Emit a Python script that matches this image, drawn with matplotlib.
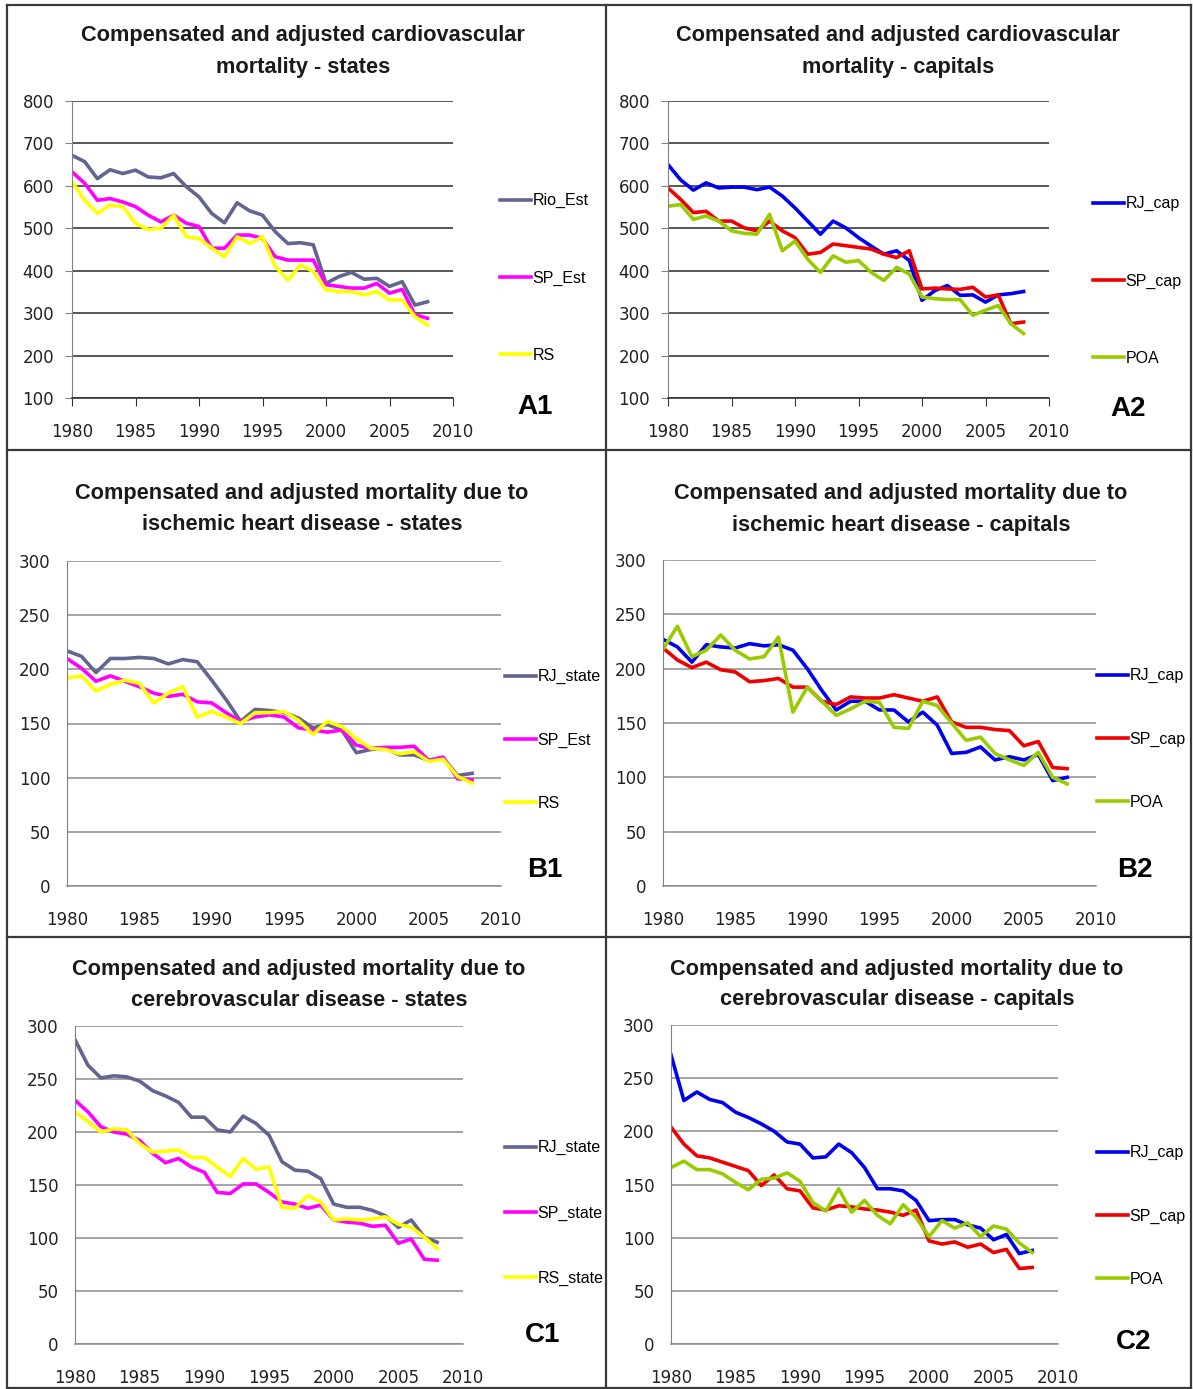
import numpy as np
import matplotlib
matplotlib.use("Agg")
import matplotlib.pyplot as plt
from matplotlib.lines import Line2D

W, H = 1193, 1389
years = np.arange(1980, 2009)

# A1 - cardiovascular, states
a1_rio = [672, 657, 617, 638, 629, 637, 621, 619, 629, 598, 574, 535, 513, 560, 541, 531,
          492, 464, 466, 461, 370, 386, 396, 380, 382, 363, 374, 319, 327]
a1_sp = [633, 606, 566, 570, 562, 551, 531, 515, 531, 512, 504, 453, 453, 484, 484, 476,
         433, 425, 425, 425, 367, 363, 359, 359, 370, 347, 356, 296, 288]
a1_rs = [610, 566, 535, 555, 551, 512, 497, 500, 531, 480, 476, 453, 433, 480, 464, 480,
         410, 378, 414, 398, 355, 351, 351, 343, 351, 331, 331, 292, 272]

# A2 - cardiovascular, capitals
a2_rj = [650, 614, 590, 607, 595, 597, 597, 591, 597, 576, 548, 517, 486, 517, 501, 478,
         458, 439, 447, 424, 330, 353, 365, 342, 343, 326, 343, 346, 351]
a2_sp = [595, 568, 537, 540, 517, 517, 501, 494, 517, 494, 478, 439, 443, 463, 459, 455,
         451, 439, 431, 447, 357, 359, 357, 356, 361, 338, 343, 275, 279]
a2_poa = [552, 556, 521, 529, 517, 494, 488, 486, 533, 447, 470, 427, 396, 435, 420, 424,
          396, 377, 408, 392, 338, 334, 332, 332, 295, 307, 318, 275, 252]

# B1 - ischemic heart disease, states
b1_rj = [217, 212, 197, 210, 210, 211, 210, 205, 209, 207, 190, 172, 152, 163, 162, 160,
         155, 146, 149, 144, 123, 126, 127, 121, 121, 116, 118, 102, 104]
b1_sp = [210, 201, 189, 194, 189, 184, 178, 175, 177, 170, 169, 160, 152, 156, 158, 156,
         146, 144, 142, 144, 130, 127, 128, 128, 129, 116, 119, 99, 98]
b1_rs = [192, 194, 180, 186, 190, 187, 169, 178, 184, 156, 161, 156, 150, 160, 160, 161,
         153, 140, 152, 147, 136, 127, 126, 122, 124, 115, 117, 101, 95]

# B2 - ischemic heart disease, capitals
b2_rj = [227, 220, 206, 222, 220, 219, 223, 221, 222, 217, 200, 180, 162, 170, 170, 162,
         162, 151, 160, 148, 122, 123, 128, 116, 119, 116, 121, 97, 100]
b2_sp = [219, 208, 201, 206, 199, 197, 188, 189, 191, 183, 183, 170, 167, 174, 173, 173,
         176, 173, 170, 174, 151, 146, 146, 144, 143, 129, 133, 109, 108]
b2_poa = [218, 239, 211, 217, 231, 217, 209, 211, 229, 160, 183, 170, 157, 163, 170, 169,
          146, 145, 170, 166, 150, 134, 137, 122, 116, 111, 123, 100, 94]

# C1 - cerebrovascular disease, states
c1_rj = [287, 263, 251, 253, 252, 248, 239, 234, 228, 214, 214, 202, 200, 215, 208, 197,
         172, 164, 163, 156, 132, 129, 129, 126, 121, 110, 117, 101, 96]
c1_sp = [230, 219, 205, 200, 198, 192, 180, 171, 175, 167, 162, 143, 142, 151, 151, 143,
         134, 132, 128, 131, 117, 115, 114, 111, 112, 95, 99, 80, 79]
c1_rs = [219, 210, 200, 203, 202, 189, 181, 182, 183, 176, 176, 167, 158, 175, 165, 167,
         129, 128, 140, 134, 117, 118, 117, 118, 120, 113, 110, 101, 90]

# C2 - cerebrovascular disease, capitals
c2_rj = [272, 229, 237, 230, 227, 218, 213, 207, 200, 190, 188, 175, 176, 188, 180, 166,
         146, 146, 144, 135, 116, 117, 117, 112, 109, 98, 103, 85, 88]
c2_sp = [204, 188, 177, 175, 171, 167, 163, 149, 159, 146, 144, 128, 126, 130, 129, 127,
         126, 124, 121, 126, 97, 94, 96, 91, 94, 86, 89, 71, 72]
c2_poa = [166, 172, 164, 164, 160, 152, 145, 155, 156, 161, 153, 133, 125, 146, 124, 135,
          121, 113, 131, 119, 101, 116, 109, 114, 101, 111, 108, 95, 86]

SLATE, MAGENTA, YELLOW = "#62658f", "#ff00ff", "#ffff00"
BLUE, RED, GREEN = "#0000f0", "#f00000", "#99cc00"

panels = [
    dict(box=(72, 101, 453, 398), ylim=(100, 800), yticks=range(100, 801, 100),
         title=("Compensated and adjusted cardiovascular", "mortality - states"), tx=303, ty=(36, 68),
         series=[(a1_rio, SLATE, "Rio_Est"), (a1_sp, MAGENTA, "SP_Est"), (a1_rs, YELLOW, "RS")],
         leg=(500, 278, 78), tag=("A1", 535, 407), dark=True, xpad=12),
    dict(box=(668, 101, 1049, 398), ylim=(100, 800), yticks=range(100, 801, 100),
         title=("Compensated and adjusted cardiovascular", "mortality - capitals"), tx=898, ty=(36, 68),
         series=[(a2_rj, BLUE, "RJ_cap"), (a2_sp, RED, "SP_cap"), (a2_poa, GREEN, "POA")],
         leg=(1093, 281, 78), tag=("A2", 1128, 409), dark=True, xpad=12),
    dict(box=(67, 561, 501, 886), ylim=(0, 300), yticks=range(0, 301, 50),
         title=("Compensated and adjusted mortality due to", "ischemic heart disease - states"), tx=302, ty=(493, 525),
         series=[(b1_rj, SLATE, "RJ_state"), (b1_sp, MAGENTA, "SP_Est"), (b1_rs, YELLOW, "RS")],
         leg=(505, 740, 64), tag=("B1", 545, 870), dark=False, xpad=18),
    dict(box=(663, 560, 1096, 886), ylim=(0, 300), yticks=range(0, 301, 50),
         title=("Compensated and adjusted mortality due to", "ischemic heart disease - capitals"), tx=901, ty=(493, 525),
         series=[(b2_rj, BLUE, "RJ_cap"), (b2_sp, RED, "SP_cap"), (b2_poa, GREEN, "POA")],
         leg=(1097, 739, 64), tag=("B2", 1135, 870), dark=False, xpad=18),
    dict(box=(75, 1026, 463, 1344), ylim=(0, 300), yticks=range(0, 301, 50),
         title=("Compensated and adjusted mortality due to", "cerebrovascular disease - states"), tx=299, ty=(969, 1000),
         series=[(c1_rj, SLATE, "RJ_state"), (c1_sp, MAGENTA, "SP_state"), (c1_rs, YELLOW, "RS_state")],
         leg=(505, 1213, 66), tag=("C1", 543, 1335), dark=False, xpad=18),
    dict(box=(671, 1025, 1058, 1344), ylim=(0, 300), yticks=range(0, 301, 50),
         title=("Compensated and adjusted mortality due to", "cerebrovascular disease - capitals"), tx=897, ty=(969, 1000),
         series=[(c2_rj, BLUE, "RJ_cap"), (c2_sp, RED, "SP_cap"), (c2_poa, GREEN, "POA")],
         leg=(1097, 1216, 64), tag=("C2", 1134, 1342), dark=False, xpad=18),
]

fig = plt.figure(figsize=(W / 100, H / 100), dpi=100)
fig.patch.set_facecolor("white")

title_font = ["Liberation Sans", "DejaVu Sans"]
leg_font = ["Liberation Sans", "DejaVu Sans"]

for p in panels:
    l, t, r, b = p["box"]
    ax = fig.add_axes([l / W, 1 - b / H, (r - l) / W, (b - t) / H])
    for vals, col, lab in p["series"]:
        ax.plot(years, vals, color=col, lw=2.6, label=lab, solid_joinstyle="round")
    ax.set_xlim(1980, 2010)
    ax.set_ylim(*p["ylim"])
    ax.set_xticks(range(1980, 2011, 5))
    ax.set_yticks(list(p["yticks"]))
    grid_col = "#2a2a2a" if p["dark"] else "#8c8c8c"
    ax.yaxis.grid(True, color=grid_col, lw=1.1)
    ax.set_axisbelow(True)
    for s in ("top", "right"):
        ax.spines[s].set_visible(False)
    ax.spines["left"].set_color("#808080")
    ax.spines["bottom"].set_color(grid_col)
    ax.spines["bottom"].set_linewidth(1.1)
    if p["dark"]:
        ax.tick_params(axis="x", length=6, color="#333333", pad=p["xpad"])
        ax.tick_params(axis="y", length=5, color="#808080", pad=8)
    else:
        ax.tick_params(axis="x", length=0, pad=p["xpad"])
        ax.tick_params(axis="y", length=0, pad=12)
    ax.tick_params(labelsize=12, labelcolor="#222222")

    # titles
    for line, y in zip(p["title"], p["ty"]):
        fig.text(p["tx"] / W, 1 - y / H, line, ha="center", va="center",
                 fontsize=15.7, fontweight="bold", family=title_font, color="#1a1a1a")

    # legend placed to the right of the plot
    lx, ly, gap = p["leg"]
    fs = 11.5
    fs_px = fs * 100 / 72
    ax.legend(loc="center left", bbox_to_anchor=(lx / W, 1 - ly / H),
              bbox_transform=fig.transFigure, frameon=False, borderpad=0,
              borderaxespad=0, handlelength=31 / fs_px, handletextpad=0.1,
              labelspacing=(gap - fs_px * 1.0) / fs_px,
              prop={"family": leg_font, "size": fs})

    name, tx, ty = p["tag"]
    fig.text(tx / W, 1 - ty / H, name, ha="center", va="center", fontsize=20,
             fontweight="heavy", family=["Liberation Sans", "DejaVu Sans"], color="black")

# panel frame lines
frame_col = "#3a3a3a"
for x in (7 / W, 606 / W, 1191 / W):
    fig.add_artist(Line2D([x, x], [0, 1 - 5 / H], color=frame_col, lw=1.6))
for y in (5, 450, 937, 1388):
    fig.add_artist(Line2D([7 / W, 1191 / W], [1 - y / H, 1 - y / H], color=frame_col, lw=1.6))

fig.savefig("out.png", dpi=100, facecolor="white")
